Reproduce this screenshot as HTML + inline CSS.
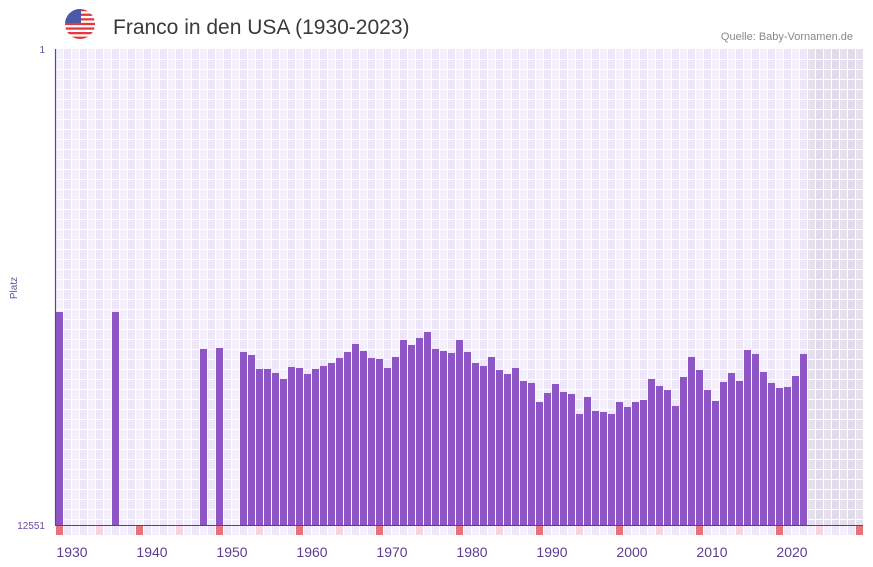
<!DOCTYPE html>
<html><head><meta charset="utf-8"><style>
html,body{margin:0;padding:0;background:#fff;width:873px;height:567px;overflow:hidden}
svg{display:block;font-family:"Liberation Sans",sans-serif}
</style></head><body>
<svg id="s" width="873" height="567" xmlns="http://www.w3.org/2000/svg">
<defs>
<clipPath id="fc"><circle cx="80" cy="24" r="15"/></clipPath>
</defs>
<g clip-path="url(#fc)">
<rect x="65" y="9" width="30" height="30" fill="#fff"/>
<g fill="#e5393b">
<rect x="65" y="9" width="30" height="2.3"/><rect x="65" y="13.6" width="30" height="2.3"/><rect x="65" y="18.2" width="30" height="2.3"/><rect x="65" y="22.8" width="30" height="2.3"/><rect x="65" y="27.4" width="30" height="2.3"/><rect x="65" y="32" width="30" height="2.3"/><rect x="65" y="36.6" width="30" height="2.4"/>
</g>
<rect x="65" y="9" width="16" height="14" fill="#4a5aa8"/>
</g>
<text x="113" y="34" font-size="21" fill="#3a3a3a">Franco in den USA (1930-2023)</text>
<text x="853" y="40" font-size="11" fill="#888" text-anchor="end">Quelle: Baby-Vornamen.de</text>
<g id="grid"></g>
<g id="bars" fill="#8e55c7"></g>
<line x1="55.5" y1="49" x2="55.5" y2="525" stroke="#6a3fa0" stroke-width="1.2"/>
<line x1="55" y1="525.5" x2="863" y2="525.5" stroke="#5b3a94" stroke-width="1"/>
<text x="45" y="53" font-size="10" fill="#6a4aa0" text-anchor="end">1</text>
<text x="45" y="529" font-size="10" fill="#6a4aa0" text-anchor="end">12551</text>
<text transform="translate(17,288) rotate(-90)" font-size="10" fill="#6a4aa0" text-anchor="middle">Platz</text>
<g id="xl" font-size="14" fill="#5c3d91" text-anchor="middle"></g>
</svg>
<script>
var ns="http://www.w3.org/2000/svg";
function el(p,t,a){var e=document.createElementNS(ns,t);for(var k in a)e.setAttribute(k,a[k]);p.appendChild(e);return e;}
var g=document.getElementById('grid');
for(var i=0;i<101;i++){var x=55+i*8;el(g,'rect',{x:x,y:49,width:8,height:476,fill:(i%2?'#ece6f8':'#f3effb')});}
el(g,'rect',{x:808,y:49,width:55,height:476,fill:'#d8d4e0',opacity:0.55});
for(var i=0;i<=101;i++){el(g,'line',{x1:55.5+i*8,y1:49,x2:55.5+i*8,y2:525,stroke:'#fff','stroke-width':1});}
for(var y=59;y<525;y+=10){el(g,'line',{x1:55,y1:y+0.5,x2:863,y2:y+0.5,stroke:'#fff','stroke-width':1});}
for(var i=0;i<101;i++){var x=56+i*8;var c=(i%2?'#ece6f8':'#f3effb');if(i%10==0)c='#e87378';else if(i%10==5)c='#f5d5de';el(g,'rect',{x:x,y:526,width:7,height:9,fill:c});}
var tops={56:312,112:312,200:349,216:348};
var a=[352,355,369,369,373,379,367,368,374,369,366,363,358,352,344,351,358,359,368,357,340,345,338,332,349,351,353,340,352,363,
366,357,370,374,368,381,383,402,393,384,392,394,414,397,411,412,414,402,407,402,400,379,386,390,406,377,357,370,390,401,
382,373,381,350,354,372,383,388,387,376,354];
for(var i=0;i<a.length;i++)tops[240+i*8]=a[i];
var b=document.getElementById('bars');
for(var x in tops){el(b,'rect',{x:+x,y:tops[x],width:7,height:525-tops[x]});}
var xl=document.getElementById('xl');
for(var k=0;k<10;k++){var t=el(xl,'text',{x:72+k*80,y:557});t.textContent=1930+k*10;}
</script>
</body></html>
